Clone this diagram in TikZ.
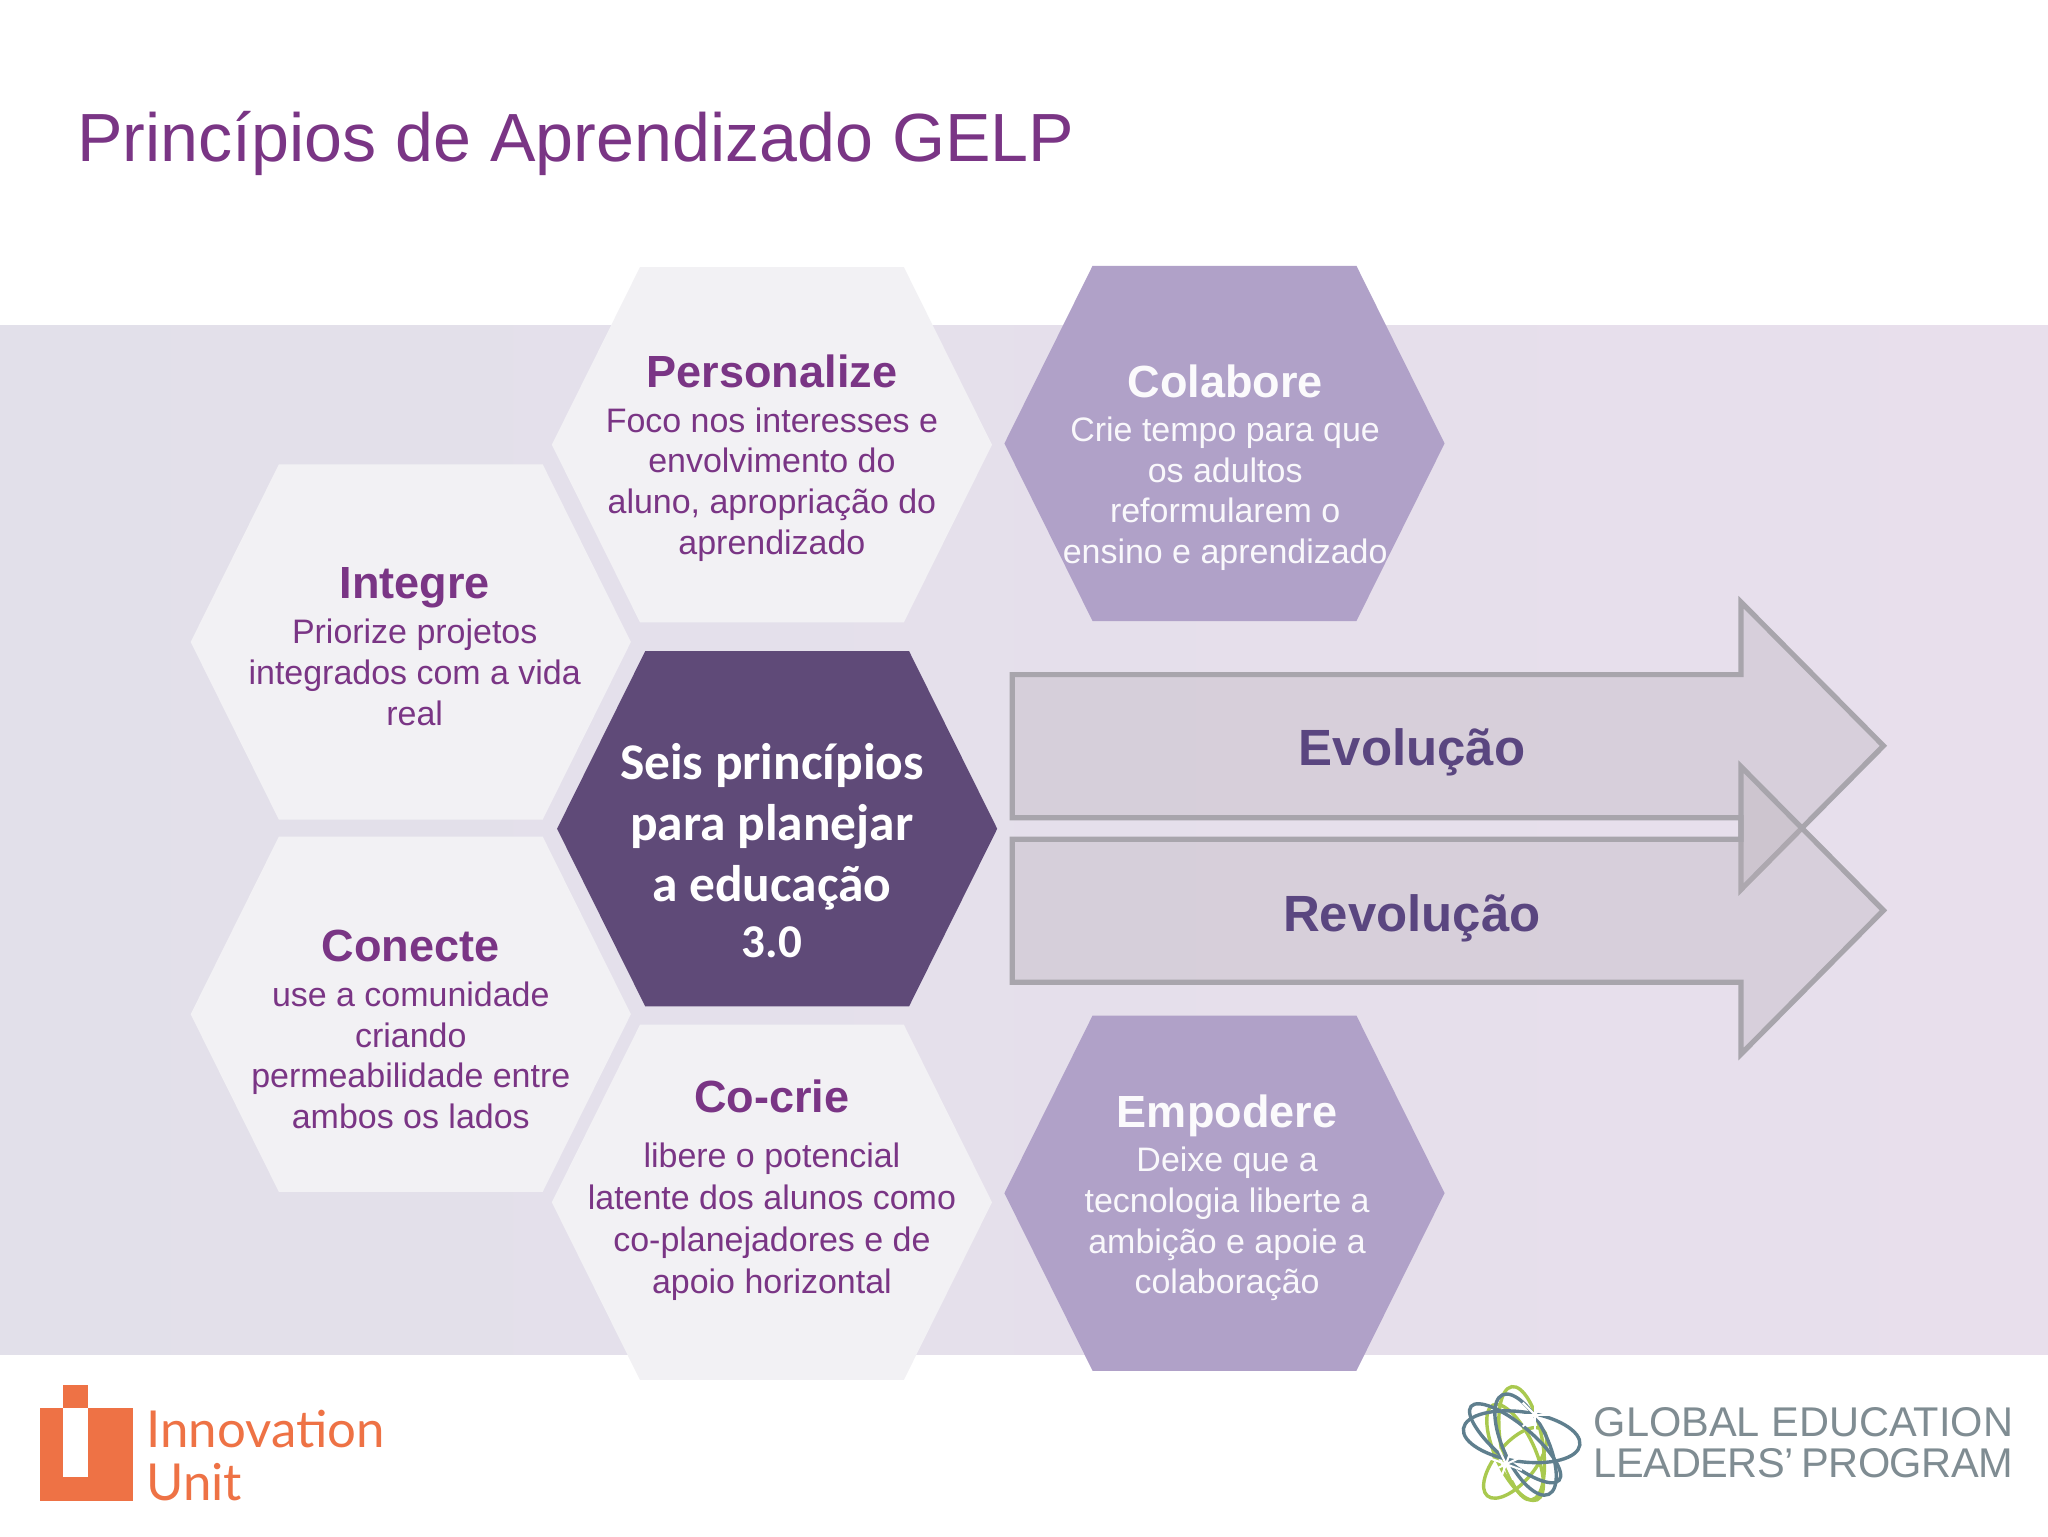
\documentclass[tikz,border=0pt]{standalone}
\usepackage{fontspec}
\setmainfont{Liberation Sans}
\newfontfamily\carl{Carlito}
\newfontfamily\logofont{Lato}
\newfontfamily\tightfont[LetterSpace=-1.0]{Liberation Sans}
\usetikzlibrary{shapes.geometric}
\definecolor{ttl}{HTML}{7A3585}
\definecolor{lighthex}{HTML}{F2F1F4}
\definecolor{midhex}{HTML}{B0A1C8}
\definecolor{darkhex}{HTML}{5F4A78}
\definecolor{bandL}{HTML}{E2E0EA}
\definecolor{bandR}{HTML}{E8DFEC}
\definecolor{arrline}{HTML}{A8A5AC}
\definecolor{arrfill}{HTML}{B8B0B8}
\definecolor{arrtxt}{HTML}{5A4680}
\definecolor{orng}{HTML}{EE7245}
\definecolor{glogray}{HTML}{7F8C92}
\definecolor{glogreen}{HTML}{A9C94F}
\definecolor{gloteal}{HTML}{5F7F8E}
\tikzset{
  x=1pt,y=-1pt,
  hexlight/.style={fill=lighthex,draw=none},
  hexmid/.style={fill=midhex,draw=none},
  hexdark/.style={fill=darkhex,draw=none},
  headtxt/.style={anchor=base,inner sep=0,text=ttl,font=\fontsize{34.5}{40}\selectfont\bfseries},
  bodytxt/.style={anchor=center,inner sep=0,align=center,text=ttl,font=\fontsize{26}{31.3}\selectfont},
  headw/.style={headtxt,text=white!95!midhex},
  bodyw/.style={bodytxt,text=white!92!midhex},
  arrowbox/.style={draw=arrline,line width=4pt,fill=arrfill,fill opacity=0.32,miter limit=10},
  arrtext/.style={anchor=base,inner sep=0,text=arrtxt,font=\fontsize{39}{44}\selectfont\bfseries},
  globeA/.style={draw=gloteal,line width=2.6pt},
  globeB/.style={draw=glogreen,line width=2.6pt},
  ray/.style={draw=white,line width=1.6pt},
}
\newcommand{\hexa}[4]{\path[#4] (#2-168.5,#3) -- (#2-101,#3-136) -- (#2+101,#3-136) -- (#2+168.5,#3) -- (#2+101,#3+136) -- (#2-101,#3+136) -- cycle;
  \coordinate (#1) at (#2,#3);}
\begin{document}
\begin{tikzpicture}
\useasboundingbox (0,0) rectangle (1568,1176);
\fill[white] (0,0) rectangle (1568,1176);
\shade[left color=bandL,right color=bandR] (0,249) rectangle (1568,1037);
\node[anchor=base west,inner sep=0,text=ttl,font=\fontsize{52.2}{60}\selectfont] (title) at (59,124) {Princípios de Aprendizado GELP};

\hexa{pers}{591}{340.5}{hexlight}
\hexa{cola}{937.5}{339.5}{hexmid}
\hexa{inte}{314.5}{491.5}{hexlight}
\hexa{cent}{595}{634.5}{hexdark}
\hexa{cone}{314.5}{776.5}{hexlight}
\hexa{cocr}{591}{920.5}{hexlight}
\hexa{empo}{937.5}{913.5}{hexmid}

\node[headtxt] (h1) at (591,297) {Personalize};
\node[bodytxt] (b1) at (591,371) {Foco nos interesses e\\envolvimento do\\aluno, apropriação do\\aprendizado};
\node[headw] (h2) at (938,304.5) {Colabore};
\node[bodyw] (b2) at (938,378) {Crie tempo para que\\os adultos\\reformularem o\\ensino e aprendizado};
\node[headtxt] (h3) at (317.5,458.5) {Integre};
\node[bodytxt] (b3) at (317.5,515) {Priorize projetos\\integrados com a vida\\real};
\node[headtxt] (h4) at (314.5,736.5) {Conecte};
\node[bodytxt] (b4) at (314.5,808) {use a comunidade\\criando\\permeabilidade entre\\ambos os lados};
\node[headtxt] (h5) at (591,852) {Co-crie};
\node[bodytxt,font=\fontsize{26}{32}\selectfont] (b5) at (591,935.5) {libere o potencial\\latente dos alunos como\\co-planejadores e de\\apoio horizontal};
\node[headw] (h6) at (939.5,863.5) {Empodere};
\node[bodyw] (b6) at (939.5,937) {Deixe que a\\tecnologia liberte a\\ambição e apoie a\\colaboração};
\node[anchor=center,inner sep=0,align=center,text=white,font=\carl\bfseries\fontsize{39.4}{47}\selectfont] (c1) at (591,633) {Seis princípios\\para planejar\\a educação};
\node[anchor=base,inner sep=0,text=white,font=\carl\bfseries\fontsize{36}{40}\selectfont] (c2) at (591,733) {3.0};

\path[arrowbox] (775,516.5) -- (1333,516.5) -- (1333,461) -- (1442,571) -- (1333,681) -- (1333,626) -- (775,626) -- cycle;
\path[arrowbox] (775,642.5) -- (1333,642.5) -- (1333,587) -- (1442,697) -- (1333,807) -- (1333,752) -- (775,752) -- cycle;
\node[arrtext] (ev) at (1081,586) {Evolução};
\node[arrtext] (re) at (1081,713) {Revolução};

% Innovation Unit logo
\fill[orng] (30.6,1078) rectangle (101.5,1149);
\fill[orng] (48.5,1060.5) rectangle (67,1078);
\fill[white] (48.5,1078) rectangle (67,1131);
\node[anchor=base west,inner sep=0,text=orng,font=\logofont\fontsize{39}{40}\selectfont] (iu1) at (112,1108) {Innovation};
\node[anchor=base west,inner sep=0,text=orng,font=\logofont\fontsize{39}{40}\selectfont] (iu2) at (112,1149) {Unit};

% GELP logo
\draw[globeB,rotate around={-65:(1160,1112)}] (1160,1112) ellipse (40 and 15);
\draw[globeB,rotate around={10:(1165,1105)}] (1165,1105) ellipse (16 and 44);
\draw[globeB,rotate around={50:(1160,1120)}] (1160,1120) ellipse (33 and 15);
\draw[globeA,rotate around={-8:(1165,1100)}] (1165,1100) ellipse (45 and 19);
\draw[globeA,rotate around={25:(1168,1106)}] (1168,1106) ellipse (17 and 42);
\draw[globeA,rotate around={-40:(1160,1105)}] (1160,1105) ellipse (44 and 14);
\foreach \a in {0,45,...,315}{
  \draw[ray] (1175,1083) -- ++(\a:13);
  \draw[ray] (1153,1121) -- ++(\a+20:13);
}
\node[anchor=base west,inner sep=0,text=glogray,font=\fontsize{31.8}{34}\selectfont] (g1) at (1220,1100) {GLOBAL EDUCATION};
\node[anchor=base west,inner sep=0,text=glogray,font=\tightfont\fontsize{31.8}{34}\selectfont] (g2) at (1220,1131) {LEADERS’\kern-3pt{} PROGRAM};
\end{tikzpicture}
\end{document}
